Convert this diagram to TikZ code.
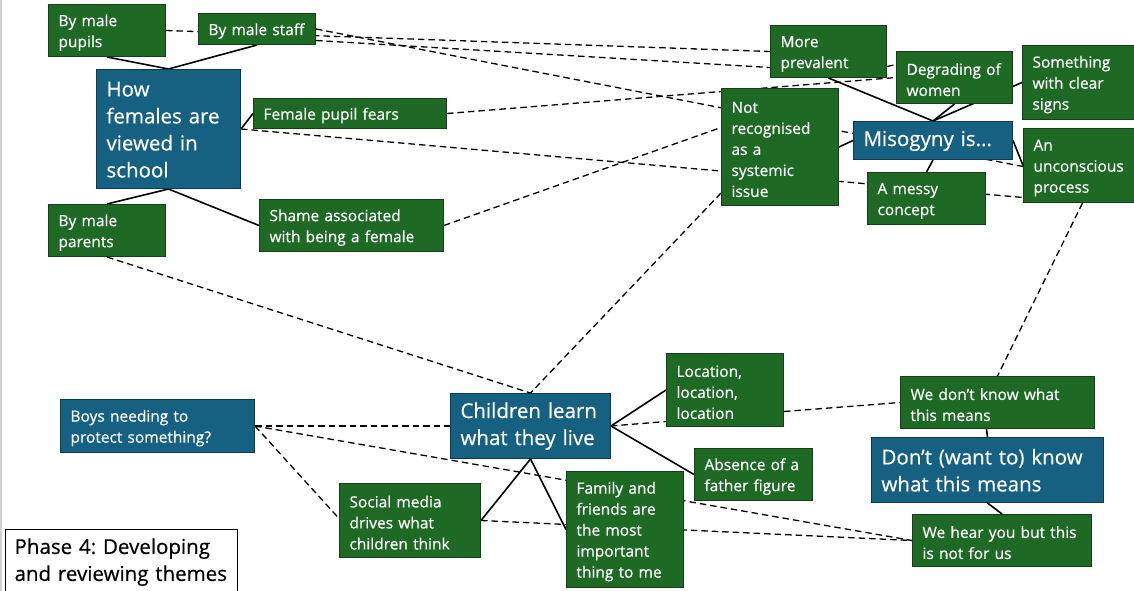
\documentclass[tikz,border=0pt]{standalone}
\usepackage{fontspec}
\setmainfont{Open Sans}[FakeBold=0.5]
\usetikzlibrary{backgrounds}
\hyphenpenalty=10000
\exhyphenpenalty=10000
\frenchspacing

\definecolor{boxgreen}{RGB}{30,106,36}
\definecolor{greenedge}{RGB}{22,62,26}
\definecolor{boxblue}{RGB}{22,96,130}
\definecolor{blueedge}{RGB}{14,58,80}

\tikzset{
  card/.style={draw, line width=1pt, anchor=north west, inner xsep=10pt, inner ysep=0pt,
    align=left, text=white, font=\fontsize{15.5}{21}\selectfont,
    execute at begin node={\rule{0pt}{16pt}}},
  gcard/.style={card, fill=boxgreen, draw=greenedge},
  bcard/.style={card, fill=boxblue, draw=blueedge},
  bigtext/.style={font=\fontsize{20.5}{27}\selectfont},
  link/.style={line width=1.6pt, black},
  dlink/.style={line width=1.3pt, black, dash pattern=on 6.5pt off 4pt},
}

\begin{document}
\begin{tikzpicture}[x=1pt,y=-1pt]
\useasboundingbox (0,0) rectangle (1134,591);

% --- theme: how females are viewed in school
\node[gcard, text width=97pt,  minimum height=52pt]  (pupils)    at (48,4)    {By male\\pupils};
\node[gcard, text width=97pt,  minimum height=31pt]  (staff)     at (198,13)  {By male staff};
\node[bcard, bigtext, text width=124pt, minimum height=119pt] (females) at (96,69) {How\\females are\\viewed in\\school};
\node[gcard, text width=173pt, minimum height=30pt]  (fears)     at (253,98)  {Female pupil fears};
\node[gcard, text width=97pt,  minimum height=52pt]  (parents)   at (48,204)  {By male\\parents};
\node[gcard, text width=164pt, minimum height=52pt]  (shame)     at (259,199) {Shame associated\\with being a female};

% --- theme: misogyny is...
\node[gcard, text width=96pt,  minimum height=52pt]  (prevalent) at (770,25)  {More\\prevalent};
\node[gcard, text width=96pt,  minimum height=52pt]  (degrading) at (896,51)  {Degrading of\\women};
\node[gcard, text width=94pt,  minimum height=74pt]  (signs)     at (1022,45) {Something\\with clear\\signs};
\node[gcard, text width=97pt,  minimum height=117pt] (notrec)    at (721,88)  {Not\\recognised\\as a\\systemic\\issue};
\node[bcard, bigtext, text width=139pt, minimum height=38pt] (misogyny) at (853,121) {Misogyny is...};
\node[gcard, text width=98pt,  minimum height=52pt]  (messy)     at (867,172) {A messy\\concept};
\node[gcard, text width=93pt,  minimum height=74pt]  (unconscious) at (1023,128) {An\\unconscious\\process};

% --- theme: children learn what they live
\node[bcard, text width=174pt, minimum height=53pt]  (boys)      at (60,399)  {Boys needing to\\protect something?};
\node[gcard, text width=121pt, minimum height=74pt]  (social)    at (339,483) {Social media\\drives what\\children think};
\node[bcard, bigtext, text width=140pt, minimum height=65pt] (children) at (450,393) {Children learn\\what they live};
\node[gcard, text width=97pt,  minimum height=73pt]  (location)  at (666,353) {Location,\\location,\\location};
\node[gcard, text width=98pt,  minimum height=52pt]  (absence)   at (694,448) {Absence of a\\father figure};
\node[gcard, text width=97pt,  minimum height=116pt] (family)    at (566,471) {Family and\\friends are\\the most\\important\\thing to me};

% --- theme: don't (want to) know what this means
\node[gcard, text width=174pt, minimum height=52pt]  (wedont)    at (900,376) {We don’t know what\\this means};
\node[bcard, bigtext, text width=212pt, minimum height=65pt] (dontwant) at (871,437) {Don’t (want to) know\\what this means};
\node[gcard, text width=159pt, minimum height=52pt]  (wehear)    at (912,514) {We hear you but this\\is not for us};

% --- caption box
\node[draw=black, line width=1.2pt, fill=white, anchor=north west, inner xsep=9pt, inner ysep=0pt,
      align=left, text width=214pt, minimum height=65pt,
      font=\fontsize{20.5}{27}\selectfont] (phase) at (5,529) {Phase 4: Developing\\and reviewing themes};

\begin{pgfonlayer}{background}
  \fill[white] (0,0) rectangle (1134,591);
  \draw[gray!35, line width=1.5pt] (0.75,0) -- (0.75,591);

  % solid links inside each theme
  \draw[link] (pupils.south) -- (females.north);
  \draw[link] (staff.south) -- (females.north);
  \draw[link] (females.east) -- (fears.west);
  \draw[link] (females.south) -- (parents.north);
  \draw[link] (females.south) -- (shame.west);

  \draw[link] (prevalent.south) -- (misogyny.north);
  \draw[link] (degrading.south) -- (misogyny.north);
  \draw[link] (signs.west) -- (misogyny.north);
  \draw[link] (notrec.east) -- (misogyny.west);
  \draw[link] (misogyny.south) -- (messy.north);
  \draw[link] (misogyny.east) -- (unconscious.west);

  \draw[link] (children.east) -- (location.west);
  \draw[link] (children.east) -- (absence.west);
  \draw[link] (children.south) -- (social.east);
  \draw[link] (children.south) -- (family.west);

  \draw[link] ([xshift=-11pt]wedont.south) -- (dontwant.north);
  \draw[link] (dontwant.south) -- (wehear.north);

  % dashed links between themes
  \draw[dlink] (pupils.east) -- (prevalent.west);
  \draw[dlink] ([yshift=-11.5pt]staff.east) -- ([yshift=-16pt]prevalent.west);
  \draw[dlink] (staff.east) -- ([yshift=-1pt]unconscious.west);
  \draw[dlink] ([yshift=-15pt]prevalent.east) -- ([yshift=13pt]degrading.west);
  \draw[dlink] (fears.east) -- (degrading.west);
  \draw[dlink] (females.east) -- ([yshift=-32pt]unconscious.west);
  \draw[dlink] (shame.east) -- ([yshift=19.5pt]notrec.west);
  \draw[dlink] ([yshift=-46pt]notrec.west) -- (children.north);
  \draw[dlink] (parents.south) -- (children.north);
  \draw[dlink] ([xshift=2.5pt]unconscious.south) -- (wedont.north);

  \draw[dlink] (boys.east) -- (children.west);
  \draw[dlink] (children.east) -- ([yshift=-31.5pt]location.west);
  \draw[dlink] ([yshift=-21.5pt]location.east) -- (wedont.west);
  \draw[dlink] (boys.east) -- (wehear.west);
  \draw[dlink] (boys.east) -- ([yshift=2pt]social.west);
  \draw[dlink] (social.east) -- (wehear.west);
\end{pgfonlayer}
\end{tikzpicture}
\end{document}
